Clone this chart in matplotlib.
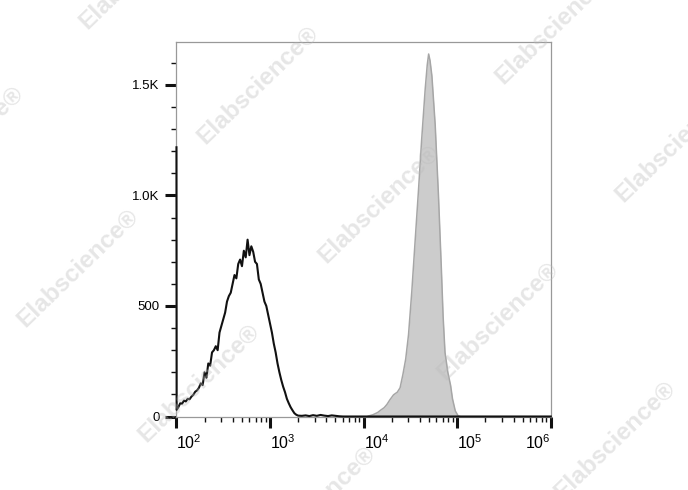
import numpy as np
import matplotlib

matplotlib.use("Agg")
import matplotlib.pyplot as plt  # noqa: E402
from matplotlib.ticker import FixedLocator  # noqa: E402

plt.rcParams["font.family"] = ["Liberation Sans", "DejaVu Sans"]
plt.rcParams["mathtext.fontset"] = "custom"
plt.rcParams["mathtext.rm"] = "Liberation Sans"
plt.rcParams["mathtext.it"] = "Liberation Sans"

# open (unstained / isotype) histogram: log10 channel, count
open_log = [2.000, 2.002, 2.02, 2.04, 2.06, 2.08, 2.10, 2.12, 2.14, 2.16, 2.18,
            2.20, 2.22, 2.24, 2.26, 2.28, 2.30, 2.32, 2.34, 2.36, 2.38, 2.40,
            2.42, 2.44, 2.46, 2.48, 2.50, 2.52, 2.54, 2.56, 2.58, 2.60, 2.62,
            2.64, 2.66, 2.68, 2.70, 2.72, 2.74, 2.76, 2.78, 2.80, 2.82, 2.84,
            2.86, 2.88, 2.90, 2.92, 2.94, 2.96, 2.98, 3.00, 3.02, 3.04, 3.06,
            3.08, 3.10, 3.12, 3.14, 3.16, 3.18, 3.20, 3.22, 3.24, 3.26, 3.28,
            3.30, 3.34, 3.38, 3.42, 3.46, 3.50, 3.54, 3.58, 3.62, 3.66, 3.70,
            3.74, 3.78, 6.00]
open_cnt = [1218, 30, 42, 60, 58, 72, 68, 80, 78, 90, 98,
            112, 118, 130, 150, 142, 200, 175, 240, 230, 290, 300,
            318, 300, 380, 410, 440, 470, 520, 545, 560, 600, 640,
            625, 690, 710, 680, 750, 720, 800, 730, 770, 745, 700,
            690, 620, 600, 560, 520, 500, 460, 420, 380, 330, 290,
            240, 200, 165, 135, 110, 80, 60, 42, 28, 15, 8,
            4, 3, 5, 2, 6, 3, 7, 4, 2, 5, 3,
            1, 0, 0]

# filled (stained) histogram
fill_log = [4.05, 4.10, 4.15, 4.18, 4.22, 4.25, 4.28, 4.32, 4.36, 4.39, 4.42,
            4.45, 4.48, 4.515, 4.55, 4.586, 4.62, 4.658, 4.68, 4.695, 4.71,
            4.73, 4.765, 4.80, 4.83, 4.85, 4.87, 4.90, 4.93, 4.95, 4.98, 5.01, 5.03]
fill_cnt = [2, 8, 18, 28, 40, 55, 75, 98, 110, 130, 190,
            260, 370, 565, 790, 1020, 1250, 1480, 1590, 1640, 1610,
            1540, 1320, 1000, 680, 450, 290, 200, 140, 80, 25, 3, 0]

y_major = [0, 500, 1000, 1500]
y_labels = ["0", "500", "1.0K", "1.5K"]
x_major = [1e2, 1e3, 1e4, 1e5, 1e6]
x_labels = [r"$10^{2}$", r"$10^{3}$", r"$10^{4}$", r"$10^{5}$", r"$10^{6}$"]

fig = plt.figure(figsize=(6.88, 4.90), dpi=100)
ax = fig.add_axes([0.2565, 0.150, 0.5440, 0.7637])

fx = 10 ** np.array(fill_log)
ax.fill_between(fx, fill_cnt, 0, color="#cccccc", lw=0, zorder=2)
ax.plot(fx, fill_cnt, color="#a6a6a6", lw=1.1, zorder=3)

ox = 10 ** np.array(open_log)
ax.plot(ox, open_cnt, color="#111111", lw=1.5, zorder=4, clip_on=False)

ax.set_xscale("log")
ax.set_xlim(1e2, 1e6)
ax.set_ylim(0, 1693)

ax.xaxis.set_major_locator(FixedLocator(x_major))
ax.set_xticklabels(x_labels)
minors = [m * 10 ** d for d in range(2, 6) for m in range(2, 10)]
ax.xaxis.set_minor_locator(FixedLocator(minors))
xl = ax.get_xticklabels()
for lab in xl[:-1]:
    lab.set_horizontalalignment("left")
xl[-1].set_horizontalalignment("right")

ax.yaxis.set_major_locator(FixedLocator(y_major))
ax.set_yticklabels(y_labels)
ax.yaxis.set_minor_locator(FixedLocator(list(range(100, 1700, 100))))

ax.tick_params(which="major", direction="out", length=8, width=2.2,
               color="#111111", labelsize=9.5, pad=4)
ax.tick_params(which="minor", direction="out", length=3.8, width=1.0,
               color="#111111")
ax.tick_params(axis="x", which="major", labelsize=11.5, pad=4)

for sp in ax.spines.values():
    sp.set_color("#999999")
    sp.set_linewidth(0.9)

# watermark
wm = [(140, -30), (258, 85), (379, 204), (498, 321), (615, 440),
      (-37, 145), (78, 268), (199, 383), (315, 505),
      (556, 25), (676, 143)]
for px, py in wm:
    fig.text(px / 688, 1 - py / 490, "Elabscience®", fontsize=17.5,
             fontweight="bold", color="#bbbbbb", alpha=0.36,
             rotation=44, ha="center", va="center",
             rotation_mode="anchor", zorder=10)

fig.savefig("out.png", dpi=100)
